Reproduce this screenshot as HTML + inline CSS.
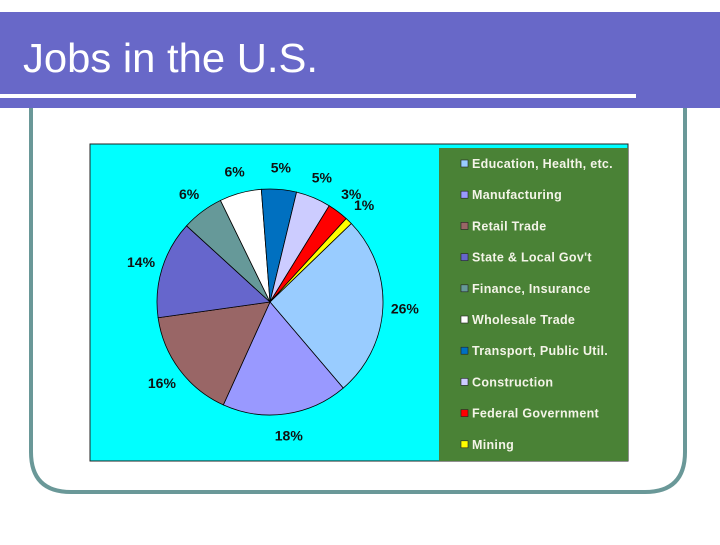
<!DOCTYPE html>
<html><head><meta charset="utf-8"><style>
body{margin:0;width:720px;height:540px;overflow:hidden;background:#fff;font-family:"Liberation Sans",sans-serif}
</style></head><body>
<svg width="720" height="540">
<rect x="0" y="12" width="720" height="96" fill="#6868c8"/>
<rect x="0" y="94" width="636" height="4" fill="#fff"/>
<text x="23" y="72" font-size="41" fill="#fff" textLength="295" lengthAdjust="spacingAndGlyphs">Jobs in the U.S.</text>
<path d="M31 108 V452 Q31 492 71 492 H645 Q685 492 685 452 V108" fill="none" stroke="#6a9898" stroke-width="4"/>
<rect x="90" y="144" width="538" height="317" fill="#00ffff" stroke="#222" stroke-width="1"/>
<rect x="439" y="148" width="189" height="313" fill="#4a8236"/>
<g id="pie"></g><g id="labels"></g><g id="legend"></g>
</svg>
<script>
const categories=["Education, Health, etc.","Manufacturing","Retail Trade","State & Local Gov't","Finance, Insurance","Wholesale Trade","Transport, Public Util.","Construction","Federal Government","Mining"];
const values=[26,18,16,14,6,6,5,5,3,1];
const colors=["#99ccff","#9999ff","#996666","#6666cc","#669999","#ffffff","#0070c0","#ccccff","#ff0000","#ffff00"];
const NS="http://www.w3.org/2000/svg";
const cx=270,cy=302,r=113,start=46;
const total=values.reduce((a,b)=>a+b,0);
function pt(a,rr){const t=a*Math.PI/180;return [cx+rr*Math.sin(t),cy-rr*Math.cos(t)];}
let a=start;
const pie=document.getElementById('pie'),lab=document.getElementById('labels'),leg=document.getElementById('legend');
values.forEach((v,i)=>{
 const sw=v/total*360,a2=a+sw;
 const p1=pt(a,r),p2=pt(a2,r);
 const path=document.createElementNS(NS,'path');
 path.setAttribute('d',`M${cx} ${cy} L${p1[0]} ${p1[1]} A${r} ${r} 0 ${sw>180?1:0} 1 ${p2[0]} ${p2[1]} Z`);
 path.setAttribute('fill',colors[i]);path.setAttribute('stroke','#000');path.setAttribute('stroke-width','0.8');
 
 
 pie.appendChild(path);
 const m=pt(a+sw/2,135);
 const t=document.createElementNS(NS,'text');
 t.setAttribute('x',m[0]);t.setAttribute('y',m[1]+5);t.setAttribute('text-anchor','middle');
 t.setAttribute('font-size','14');t.setAttribute('font-weight','bold');t.setAttribute('fill','#111');
 t.textContent=v+'%';
 
 
 lab.appendChild(t);
 const y=164+i*31.2;
 const g=document.createElementNS(NS,'g');
 
 
 const sq=document.createElementNS(NS,'rect');
 sq.setAttribute('x',461);sq.setAttribute('y',y-4);sq.setAttribute('width',7);sq.setAttribute('height',7);
 sq.setAttribute('fill',colors[i]);sq.setAttribute('stroke','#222');sq.setAttribute('stroke-width','0.6');
 const lt=document.createElementNS(NS,'text');
 lt.setAttribute('x',472);lt.setAttribute('y',y+4);lt.setAttribute('font-size','12.5');lt.setAttribute('letter-spacing','0.3');lt.setAttribute('font-weight','bold');lt.setAttribute('fill','#f4f4e8');
 lt.textContent=categories[i];
 g.appendChild(sq);g.appendChild(lt);leg.appendChild(g);
 a=a2;
});
</script>
</body></html>
